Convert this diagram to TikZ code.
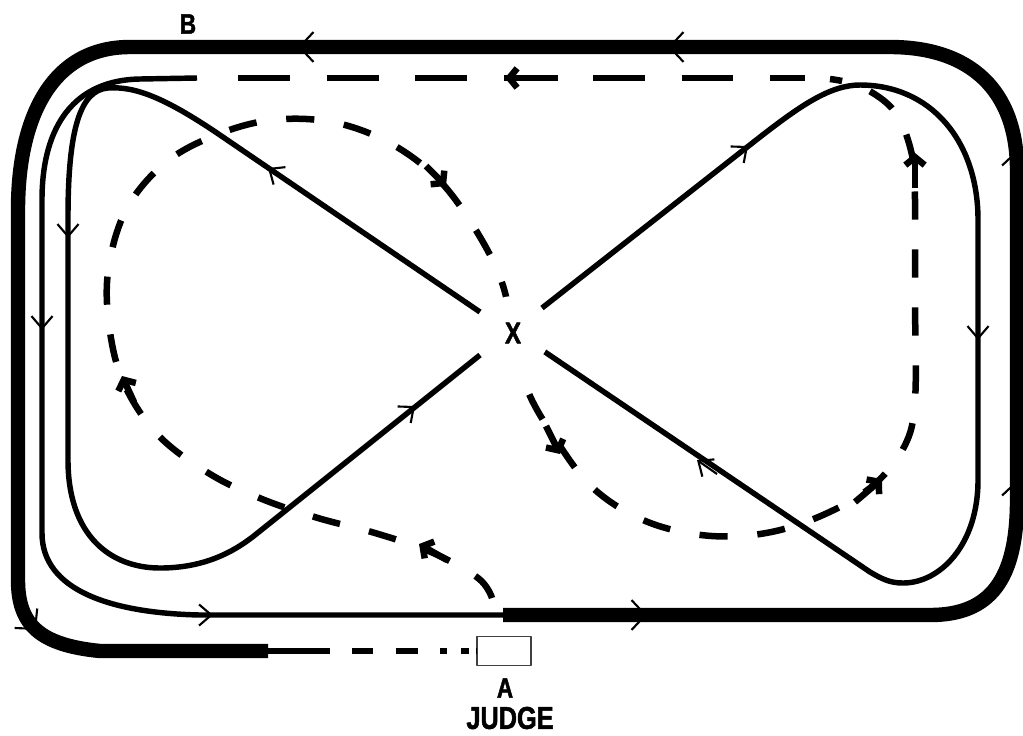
\documentclass[tikz,border=0pt]{standalone}
\usepackage{fontspec}
\newfontfamily\signfont[FakeStretch=0.8, FakeBold=1.6]{Liberation Sans Bold}
\usetikzlibrary{arrows.meta}

\begin{document}
\begin{tikzpicture}[x=0.02cm, y=-0.02cm, line join=round,
  track/.style={line width=8.2pt},
  rein/.style={line width=3.1pt},
  loopdash/.style={line width=3.7pt, dash pattern=on 16pt off 17pt},
  linedash/.style={line width=3.7pt, dash pattern=on 29.5pt off 21pt},
  entry/.style={line width=3.4pt, dash pattern=on 35.2pt off 12.5pt on 11.9pt off 13pt on 12.5pt off 13pt on 4pt off 7.9pt on 4.5pt off 4pt},
  chev/.style={line width=1.2pt, -{Straight Barb[length=8pt,width=17pt]}},
  chevs/.style={line width=1.2pt, -{Straight Barb[length=7pt,width=12pt]}},
  dtip/.style={line width=3.7pt, -{Straight Barb[length=4.5pt,width=11pt]}},
  judgebox/.style={draw=black!75, line width=0.8pt, minimum width=30.6pt, minimum height=16.4pt, inner sep=0pt},
  letter/.style={font=\signfont\fontsize{#1}{#1}\selectfont, inner sep=0pt},
  letter/.default=16
]
\useasboundingbox (0,0) rectangle (1023,735);

% Outer track (thick), from the end near A round to the bottom right
\draw[track] (268,651) -- (100,651) .. controls (40,645) and (18,625) .. (18,580)
  -- (18,210) .. controls (18,120) and (50,47) .. (130,47)
  -- (890,47) .. controls (970,47) and (1017,90) .. (1017,170)
  -- (1017,500) .. controls (1017,580) and (990,615) .. (930,615)
  -- (503,615);

% Inner track: down the long side and along to A
\draw[rein] (197,78) -- (140,79) .. controls (75,80) and (42,125) .. (42,200)
  -- (42,533) .. controls (42,590) and (110,613) .. (200,615) -- (505,615);

% Figure of eight through X
\draw[rein] (480,312) -- (217,133) .. controls (165,98) and (135,86) .. (108,88)
  .. controls (80,90) and (68,130) .. (68,217) -- (68,460)
  .. controls (68,535) and (110,568) .. (160,568)
  .. controls (200,568) and (230,555) .. (255,535) -- (480,355);
\draw[rein] (542,308) -- (760,137) .. controls (800,106) and (830,85) .. (860,85)
  .. controls (930,85) and (978,140) .. (978,220) -- (978,480)
  .. controls (978,545) and (940,583) .. (903,583)
  .. controls (890,583) and (882,579) .. (870,572) -- (542,350);

% Dashed serpentine from A
\draw[loopdash] plot[smooth, tension=0.6] coordinates {(492,598) (478,578) (431,552)
  (375,533) (318,518) (262,499) (210,474) (159,436) (125,386) (110,332) (108,272)
  (126,210) (165,163) (216,135) (272,120) (332,122) (388,142) (436,177) (472,224)
  (500,277) (514,333) (527,389) (556,440) (593,488) (643,520) (701,535) (760,534)
  (816,518) (870,488) (904,447) (915,400) (915,300) (915,200) (912,155) (895,112)
  (862,87) (830,79)};
\draw[linedash] (238,78) -- (805,78);

% Arrows on the outer track
\draw[chev] (320,47) -- (298,47);
\draw[chev] (690,47) -- (668,47);
\draw[chev] (1017,175) -- (1017,150);
\draw[chev] (1017,505) -- (1017,480);
\draw[chev] (625,615) -- (647,615);
\draw[chev] (24,616) -- (36,630);

% Arrows on the solid lines
\draw[chevs] (42,305) -- (42,330);
\draw[chevs] (190,615) -- (213,615);
\draw[chevs] (68,215) -- (68,238);
\draw[chevs] (290,183) -- (268,168);
\draw[chevs] (395,422) -- (415,406);
\draw[chevs] (728,162) -- (748,146);
\draw[chevs] (978,315) -- (978,340);
\draw[chevs] (717,474) -- (697,460);

% Arrows on the dashed lines
\draw[dtip] (447,560) -- (419,544);
\draw[dtip] (134,402) -- (122,376);
\draw[dtip] (426,166) -- (446,186);
\draw[dtip] (546,426) -- (560,454);
\draw[dtip] (855,502) -- (882,479);
\draw[dtip] (915,188) -- (915,153);
\draw[dtip] (558,78) -- (505,78);

% Judge at A
\node[judgebox] (judge) at (504,651) {};
\draw[entry] (268,651) -- (judge.west);
\node[letter] (markA) at (505,688) {A};
\node[letter=18] (judgeName) at (510,718) {JUDGE};
\node[letter] (markB) at (188,24) {B};
\node[letter=17, circle, fill=white, minimum size=42pt] (markX) at (513,333) {X};
\end{tikzpicture}
\end{document}
